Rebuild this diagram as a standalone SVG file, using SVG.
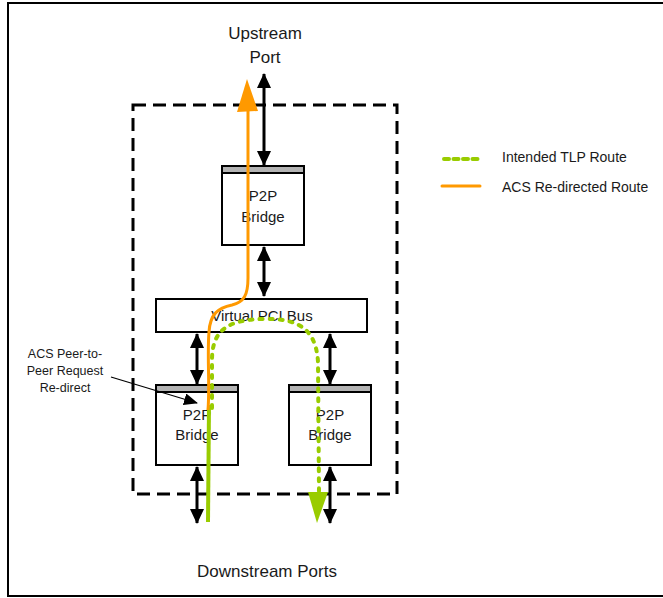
<svg xmlns="http://www.w3.org/2000/svg" width="663" height="598" viewBox="0 0 663 598">
<style>
  text { font-family: "Liberation Sans", Arial, sans-serif; fill: #1a1a1a; }
  .lbl { font-size: 17px; text-anchor: middle; }
  .node { font-size: 15px; text-anchor: middle; }
  .ann { font-size: 12.5px; text-anchor: middle; }
  .leg { font-size: 14px; }
  .box { fill: #ffffff; stroke: #000000; stroke-width: 2; }
  .band { fill: #b3b3b3; stroke: #000000; stroke-width: 2; }
  .dbl { stroke: #000000; stroke-width: 3; fill: none; marker-start: url(#ah); marker-end: url(#ah); }
  .green { stroke: #99cc00; stroke-width: 4; fill: none; }
  .orange { stroke: #ff9900; stroke-width: 3; fill: none; }
</style>
<defs>
  <marker id="ah" markerUnits="userSpaceOnUse" markerWidth="16" markerHeight="16" viewBox="0 0 16 16" refX="14" refY="8" orient="auto-start-reverse">
    <path d="M0,1 L15,8 L0,15 Z" fill="#000000"/>
  </marker>
  <marker id="ah2" markerUnits="userSpaceOnUse" markerWidth="14" markerHeight="12" viewBox="0 0 14 12" refX="13" refY="6" orient="auto">
    <path d="M0,0 L14,6 L0,12 Z" fill="#000000"/>
  </marker>
</defs>

<rect x="8" y="3" width="700" height="593" fill="none" stroke="#000000" stroke-width="2"/>

<g id="switch-boundary">
  <rect x="133" y="105" width="264" height="389" fill="none" stroke="#000000" stroke-width="3" stroke-dasharray="13 7"/>
</g>

<g id="upstream-label">
  <text class="lbl" x="265" y="39">Upstream</text>
  <text class="lbl" x="265" y="63">Port</text>
</g>

<g id="bridge-top">
  <rect class="box" x="222" y="166" width="82" height="79"/>
  <rect class="band" x="222" y="166" width="82" height="7"/>
  <text class="node" x="263" y="201">P2P</text>
  <text class="node" x="263" y="222">Bridge</text>
</g>

<g id="virtual-bus">
  <rect class="box" x="156" y="299" width="211" height="33"/>
  <text class="node" x="262" y="321">Virtual PCI Bus</text>
</g>

<g id="bridge-left">
  <rect class="box" x="156" y="385" width="82" height="80"/>
  <rect class="band" x="156" y="385" width="82" height="7"/>
  <text class="node" x="197" y="420">P2P</text>
  <text class="node" x="197" y="440">Bridge</text>
</g>

<g id="bridge-right">
  <rect class="box" x="289" y="385" width="82" height="80"/>
  <rect class="band" x="289" y="385" width="82" height="7"/>
  <text class="node" x="330" y="420">P2P</text>
  <text class="node" x="330" y="440">Bridge</text>
</g>

<g id="downstream-label">
  <text class="lbl" x="267" y="577">Downstream Ports</text>
</g>

<g id="annotation">
  <text class="ann" x="65" y="358">ACS Peer-to-</text>
  <text class="ann" x="65" y="375">Peer Request</text>
  <text class="ann" x="65" y="392">Re-direct</text>
</g>

<g id="connectors">
  <line class="dbl" x1="264" y1="74" x2="264" y2="165"/>
  <line class="dbl" x1="264" y1="247" x2="264" y2="296"/>
  <line class="dbl" x1="197" y1="334" x2="197" y2="384"/>
  <line class="dbl" x1="330" y1="334" x2="330" y2="384"/>
  <line class="dbl" x1="197" y1="467" x2="197" y2="523"/>
  <line class="dbl" x1="330" y1="467" x2="330" y2="523"/>
  <line x1="111" y1="377" x2="197" y2="403" stroke="#000000" stroke-width="1.3" marker-end="url(#ah2)"/>

  <path class="green" d="M208,522 L209,405"/>
  <path class="green" stroke-dasharray="3 7" stroke-linecap="round" d="M212,408 L212,360 C212,330 228,320 262,319 C296,318 316,327 318,362 L319,492"/>
  <polygon points="308,492 328,492 317,523" fill="#99cc00"/>

  <path class="orange" d="M208,410 C210,385 207,355 209,332 C210,314 218,308 232,305 C244,302 248,295 248,278 L248,110"/>
  <polygon points="247,79 237,112 258,111" fill="#ff9900"/>
</g>

<g id="legend">
  <line class="green" x1="444" y1="159" x2="479" y2="159" stroke-dasharray="5 4.5" stroke-linecap="round"/>
  <text class="leg" x="502" y="162">Intended TLP Route</text>
  <line class="orange" x1="442" y1="186" x2="480" y2="186" stroke-width="3.5" stroke-linecap="round"/>
  <text class="leg" x="502" y="192">ACS Re-directed Route</text>
</g>
</svg>
